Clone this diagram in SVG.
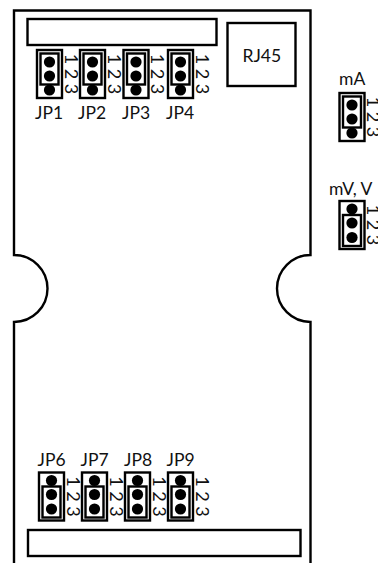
<svg xmlns="http://www.w3.org/2000/svg" width="378" height="563" viewBox="0 0 378 563">
<style>
.b{fill:none;stroke:#000;stroke-width:2.4}
.o{fill:none;stroke:#000;stroke-width:2.4}
.t{font-family:"Lato","Liberation Sans",sans-serif;font-size:17.500px;fill:#111}
.d{font-family:"Lato","Liberation Sans",sans-serif;font-size:18px;fill:#111;text-anchor:middle}
</style>
<defs>
<g id="pinsA"><rect class="o" x="0" y="0" width="25" height="48"/><rect class="o" x="3.500" y="3.500" width="18" height="31"/><circle cx="12.500" cy="12" r="5.600"/><circle cx="12.500" cy="26" r="5.600"/><circle cx="12.500" cy="40" r="5.600"/>
<text class="d" transform="translate(27.500,9) rotate(90)">1</text><text class="d" transform="translate(27.500,24) rotate(90)">2</text><text class="d" transform="translate(27.500,39) rotate(90)">3</text></g>
<g id="pinsB"><rect class="o" x="0" y="0" width="25" height="48"/><rect class="o" x="3.500" y="14" width="18" height="31"/><circle cx="12.500" cy="8" r="5.600"/><circle cx="12.500" cy="22" r="5.600"/><circle cx="12.500" cy="36.500" r="5.600"/>
<text class="d" transform="translate(27.500,9) rotate(90)">1</text><text class="d" transform="translate(27.500,24) rotate(90)">2</text><text class="d" transform="translate(27.500,39) rotate(90)">3</text></g>
</defs>
<g id="board"><path class="b" d="M14 563V322A33.500 33.500 0 0 0 14 255V10.500H310.500V255A33.500 33.500 0 0 0 310.500 322V563"/></g>
<g id="top-bar"><rect class="b" x="27.500" y="19" width="189" height="26"/></g>
<g id="bottom-bar"><rect class="b" x="28" y="530" width="272.500" height="26"/></g>
<g id="rj45"><rect class="b" x="227.500" y="23" width="68" height="63"/><text class="t" x="242.500" y="62">RJ45</text></g>
<g id="jp1"><use href="#pinsA" x="37" y="50"/><text class="t" x="35" y="119">JP1</text></g>
<g id="jp2"><use href="#pinsA" x="80" y="50"/><text class="t" x="78" y="119">JP2</text></g>
<g id="jp3"><use href="#pinsA" x="123.500" y="50"/><text class="t" x="122" y="119">JP3</text></g>
<g id="jp4"><use href="#pinsA" x="168" y="50"/><text class="t" x="166" y="119">JP4</text></g>
<g id="jp6"><use href="#pinsB" x="39" y="472.500"/><text class="t" x="37.500" y="466">JP6</text></g>
<g id="jp7"><use href="#pinsB" x="82" y="472.500"/><text class="t" x="80.500" y="466">JP7</text></g>
<g id="jp8"><use href="#pinsB" x="125" y="472.500"/><text class="t" x="124" y="466">JP8</text></g>
<g id="jp9"><use href="#pinsB" x="168" y="472.500"/><text class="t" x="166.500" y="466">JP9</text></g>
<g id="ma"><use href="#pinsA" x="339.500" y="93"/><text class="t" x="339" y="85">mA</text></g>
<g id="mv"><use href="#pinsB" x="339.500" y="201"/><text class="t" x="329" y="195">mV, V</text></g>
</svg>
